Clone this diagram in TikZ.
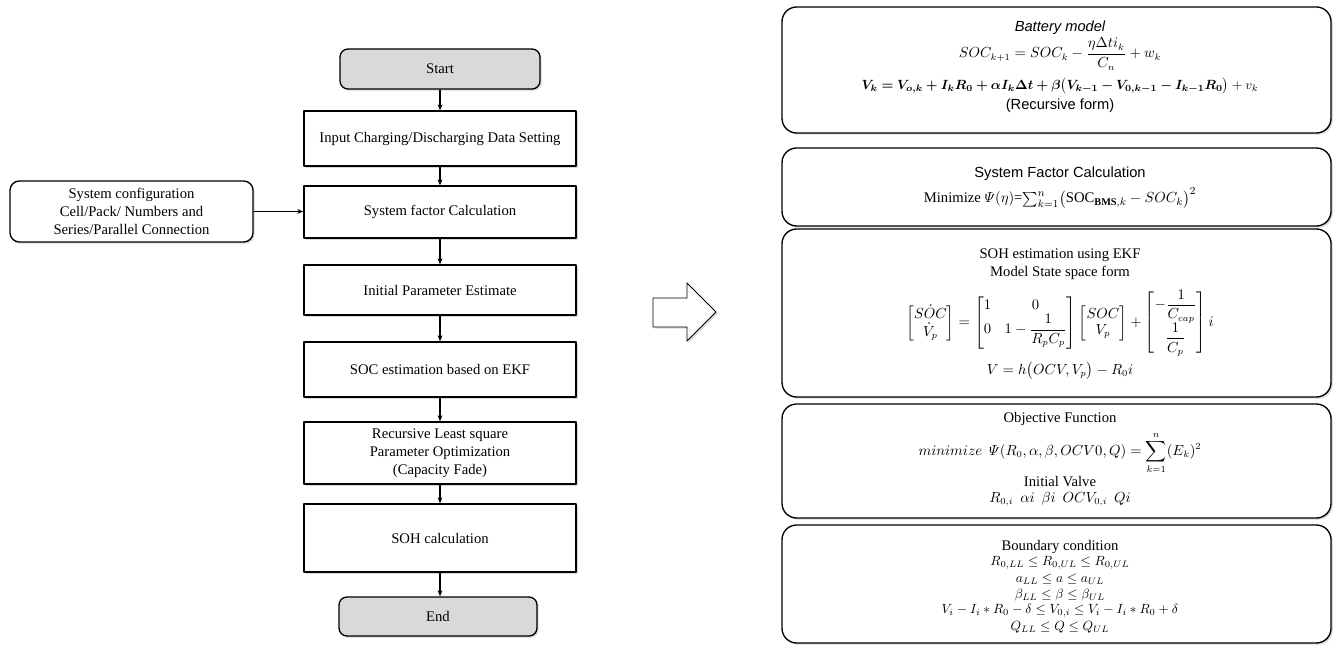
\documentclass[tikz,border=0pt]{standalone}
\usepackage{amsmath}
\usepackage{bm}
\usepackage{fontspec}
\setmainfont{Liberation Serif}
\setsansfont{Liberation Sans}
\usetikzlibrary{arrows.meta,shadows}
\definecolor{termgray}{RGB}{217,217,217}

\begin{document}
\begin{tikzpicture}[x=0.75pt,y=-0.75pt,font=\fontsize{11}{13.5}\selectfont,line join=round,
  boxshadow/.style={drop shadow={shadow xshift=1.3pt,shadow yshift=-1.3pt,opacity=0.3}},
  flowbox/.style={draw=black,line width=1pt,fill=white,minimum width=204pt,align=center,inner sep=2pt,boxshadow},
  termbox/.style={flowbox,rounded corners=6pt,fill=termgray,minimum height=30pt},
  panel/.style={draw=black,line width=1pt,fill=white,rounded corners=11pt,minimum width=411.75pt,boxshadow},
  flowarrow/.style={-{Stealth[length=4.5pt,width=3.6pt]},line width=0.9pt},
  pline/.style={inner sep=0pt,anchor=center},
  mline/.style={pline,font=\fontsize{10.5}{12}\selectfont},
  bline/.style={pline,font=\fontsize{10}{12}\selectfont}]
\useasboundingbox (0,0) rectangle (1333,645);
% flow chart
\node[termbox,minimum width=150pt] (start) at (440,69) {Start};
\node[flowbox,minimum height=41.25pt] (input) at (440,138.5) {Input Charging/Discharging Data Setting};
\node[flowbox,minimum height=39pt] (sysfactor) at (440,212) {System factor Calculation};
\node[flowbox,minimum height=37.5pt] (initparam) at (440,290) {Initial Parameter Estimate};
\node[flowbox,minimum height=41.25pt] (socekf) at (440,369.5) {SOC estimation based on EKF};
\node[flowbox,minimum height=46.5pt] (rls) at (440,453) {Recursive Least square\\Parameter Optimization\\(Capacity Fade)};
\node[flowbox,minimum height=51pt] (sohcalc) at (440,538) {SOH calculation};
\node[termbox,minimum width=148.5pt,minimum height=29.25pt] (finish) at (438,616.5) {End};
\node[flowbox,rounded corners=7pt,minimum width=182.25pt,minimum height=45.75pt] (config) at (131.5,211.5) {System configuration\\Cell/Pack/ Numbers and\\Series/Parallel Connection};
\draw[flowarrow] (start) -- (input);
\draw[flowarrow] (input) -- (sysfactor);
\draw[flowarrow] (sysfactor) -- (initparam);
\draw[flowarrow] (initparam) -- (socekf);
\draw[flowarrow] (socekf) -- (rls);
\draw[flowarrow] (rls) -- (sohcalc);
\draw[flowarrow] (sohcalc.south) -- (sohcalc.south |- finish.north);
\draw[flowarrow] (config.east) -- (config.east -| sysfactor.west);
% hollow arrow
\draw[line width=0.7pt,fill=white,boxshadow] (653,298) -- (687,298) -- (687,283) -- (716,312) -- (687,341) -- (687,327) -- (653,327) -- cycle;
% model panels
\node[panel,minimum height=94.5pt] (battery) at (1056.5,70) {};
\node[panel,minimum height=58.5pt] (factor) at (1056.5,187) {};
\node[panel,minimum height=126pt] (sohekf) at (1056.5,313) {};
\node[panel,minimum height=85.5pt] (objective) at (1056.5,461) {};
\node[panel,minimum height=88.5pt] (boundary) at (1056.5,584) {};
\node[pline,font=\fontsize{11}{13.5}\sffamily\itshape] (batttitle) at (1060,28) {Battery model};
\node[mline] (soceq) at (1060,54) {$SOC_{k+1}=SOC_k-\dfrac{\eta\Delta t i_k}{C_n}+w_k$};
\node[bline] (volteq) at (1060,86) {$\bm{V_k=V_{o,k}+I_kR_0+\alpha I_k\Delta t+\beta\bigl(V_{k-1}-V_{0,k-1}-I_{k-1}R_0\bigr)}+v_k$};
\node[pline,font=\fontsize{11}{13.5}\sffamily] (recform) at (1060,106) {(Recursive form)};
\node[pline,font=\fontsize{11}{13.5}\sffamily] (factortitle) at (1060,174) {System Factor Calculation};
\node[mline] (factoreq) at (1060,198) {\fontsize{11}{13.5}\selectfont Minimize $\varPsi(\eta)$=$\sum_{k=1}^{n}\bigl(\mathrm{SOC}_{\mathbf{BMS},k}-SOC_k\bigr)^2$};
\node[pline] (sohtitle) at (1060,255) {SOH estimation using EKF};
\node[pline] (statetitle) at (1060,273) {Model State space form};
\node[mline] (stateeq) at (1060,323) {$\begin{bmatrix}S\dot{O}C\\ \dot{V}_p\end{bmatrix}=\begin{bmatrix}1&0\\0&1-\dfrac{1}{R_pC_p}\end{bmatrix}\begin{bmatrix}SOC\\ V_p\end{bmatrix}+\begin{bmatrix}-\dfrac{1}{C_{cap}}\\[3pt] \dfrac{1}{C_p}\end{bmatrix}i$};
\node[mline] (outeq) at (1060,371) {$V=h\bigl(OCV,V_p\bigr)-R_0i$};
\node[pline] (objtitle) at (1060,419) {Objective Function};
\node[mline] (objeq) at (1060,453) {$minimize\ \ \varPsi(R_0,\alpha,\beta,OCV0,Q)=\displaystyle\sum_{k=1}^{n}(E_k)^2$};
\node[pline] (inittitle) at (1060,482) {Initial Valve};
\node[mline] (initvals) at (1060,499) {$R_{0,i}\ \ \alpha i\ \ \beta i\ \ OCV_{0,i}\ \ Qi$};
\node[pline] (boundtitle) at (1060,547) {Boundary condition};
\node[bline] (boundR) at (1060,563) {$R_{0,LL}\le R_{0,UL}\le R_{0,UL}$};
\node[bline] (bounda) at (1060,579) {$a_{LL}\le a\le a_{UL}$};
\node[bline] (boundb) at (1060,595) {$\beta_{LL}\le\beta\le\beta_{UL}$};
\node[bline] (boundV) at (1060,611) {$V_i-I_i*R_0-\delta\le V_{0,i}\le V_i-I_i*R_0+\delta$};
\node[bline] (boundQ) at (1060,627) {$Q_{LL}\le Q\le Q_{UL}$};
\end{tikzpicture}
\end{document}
